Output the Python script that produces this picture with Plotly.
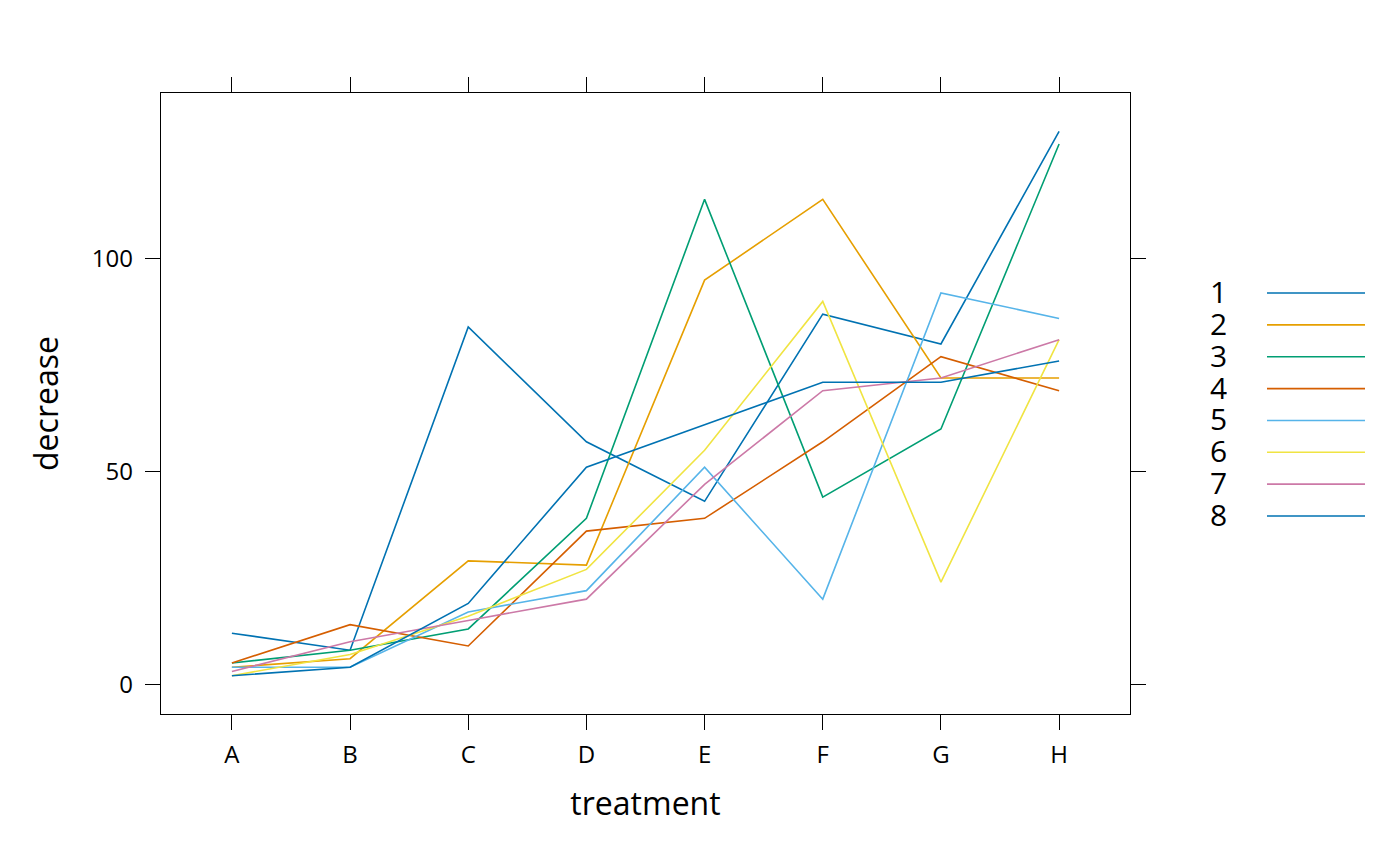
import plotly.graph_objects as go

treatments = ["A", "B", "C", "D", "E", "F", "G", "H"]
group_names = ["1", "2", "3", "4", "5", "6", "7", "8"]
g1 = [12, 8, 84, 57, 43, 87, 80, 130]
g2 = [4, 6, 29, 28, 95, 114, 72, 72]
g3 = [5, 8, 13, 39, 114, 44, 60, 127]
g4 = [5, 14, 9, 36, 39, 57, 77, 69]
g5 = [4, 4, 17, 22, 51, 20, 92, 86]
g6 = [2, 7, 16, 27, 55, 90, 24, 81]
g7 = [3, 10, 15, 20, 47, 69, 72, 81]
g8 = [2, 4, 19, 51, 61, 71, 71, 76]
series = [g1, g2, g3, g4, g5, g6, g7, g8]
colors = ["#0072B2", "#E69F00", "#009E73", "#D55E00", "#56B4E9", "#F0E442", "#CC79A7", "#0072B2"]
y_ticks = [0, 50, 100]

FONT = "Open Sans"
OFF = 8  # body margin of the html page
L, R, T, B = 161 - OFF, 1130 - OFF, 93 - OFF, 714 - OFF
W, H = 1400, 866

fig = go.Figure()
for name, vals, col in zip(group_names, series, colors):
    fig.add_trace(go.Scatter(x=treatments, y=vals, mode="lines", name=name,
                             line=dict(color=col, width=1.6), showlegend=False))

def px_x(px):
    return (px - OFF - L) / (R - L)

def px_y(py):
    return (B - (py - OFF)) / (B - T)

shapes = []
annotations = []
for i, (name, col) in enumerate(zip(group_names, colors)):
    yy = 293 + i * 31.86
    shapes.append(dict(type="line", xref="paper", yref="paper",
                       x0=px_x(1267), x1=px_x(1365), y0=px_y(yy), y1=px_y(yy),
                       line=dict(color=col, width=1.6)))
    annotations.append(dict(xref="paper", yref="paper", x=px_x(1218), y=px_y(yy - 2),
                            text=name, showarrow=False, xanchor="center", yanchor="middle",
                            height=26, valign="middle", borderpad=0,
                            font=dict(family=FONT, size=30, color="black")))

fig.update_layout(
    width=W, height=H,
    margin=dict(l=L, r=W - R, t=T, b=H - B, pad=0),
    plot_bgcolor="white", paper_bgcolor="white",
    font=dict(family=FONT, color="black"),
    shapes=shapes, annotations=annotations,
)
fig.update_xaxes(
    type="category", categoryorder="array", categoryarray=treatments,
    range=[-0.6, 7.6], showgrid=False, zeroline=False,
    showline=True, linecolor="black", linewidth=1.4, mirror="ticks",
    ticks="outside", ticklen=15, tickwidth=1.4, tickcolor="black",
    tickfont=dict(family=FONT, size=24, color="black"), ticklabelstandoff=4,
    title=dict(text="treatment", font=dict(family=FONT, size=32, color="black"), standoff=23),
)
fig.update_yaxes(
    range=[-7, 139], tickvals=y_ticks, ticktext=[str(v) for v in y_ticks],
    showgrid=False, zeroline=False,
    showline=True, linecolor="black", linewidth=1.4, mirror="ticks",
    ticks="outside", ticklen=15, tickwidth=1.4, tickcolor="black",
    tickfont=dict(family=FONT, size=24, color="black"), ticklabelstandoff=7,
    title=dict(text="decrease", font=dict(family=FONT, size=32, color="black"), standoff=23),
)

fig.write_html("out.html")
